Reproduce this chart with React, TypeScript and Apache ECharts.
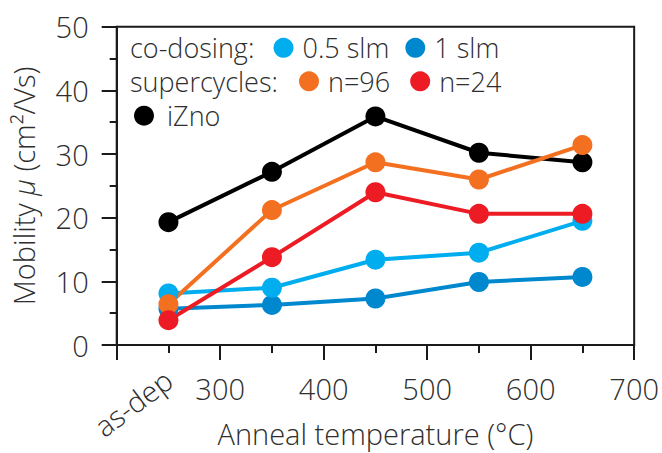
import React, { useEffect, useRef } from "react";
import * as echarts from "echarts";

const temperatures = [250, 350, 450, 550, 650];
const slm1 = [5.7, 6.3, 7.3, 9.9, 10.7];
const slm05 = [8.1, 9.0, 13.4, 14.5, 19.5];
const izno = [19.3, 27.2, 35.9, 30.2, 28.7];
const n96 = [6.4, 21.2, 28.7, 26.0, 31.4];
const n24 = [3.9, 13.8, 24.0, 20.6, 20.6];

const seriesNames = ["1 slm", "0.5 slm", "iZno", "n=96", "n=24"];
const seriesColors = ["#0088CF", "#00AEEF", "#000000", "#F37021", "#ED1C24"];
const seriesValues = [slm1, slm05, izno, n96, n24];

const xTickLabels = ["", "300", "400", "500", "600", "700"];
const yTickLabels = ["0", "10", "20", "30", "40", "50"];

const FONT = "'Open Sans', 'DejaVu Sans', sans-serif";
const TEXT = "#2e2e2e";
const AX = "#1a1a1a";
const FW = 300;
const LFS = 27;
const AFS = 29;

export default function App() {
  const ref = useRef<HTMLDivElement>(null);

  useEffect(() => {
    if (!ref.current) return;
    const chart = echarts.init(ref.current, undefined, { renderer: "svg" });

    const series = seriesNames.map((name, i) => ({
      name,
      type: "line",
      xAxisIndex: 0,
      yAxisIndex: 0,
      data: temperatures.map((t, j) => [t, seriesValues[i][j]]),
      symbol: "circle",
      symbolSize: 20,
      itemStyle: { color: seriesColors[i] },
      lineStyle: { color: seriesColors[i], width: 4 },
      emphasis: { disabled: true },
    }));

    const legendText = { fontSize: LFS, lineHeight: 28, color: TEXT, fontFamily: FONT, fontWeight: FW };

    chart.setOption({
      animation: false,
      backgroundColor: "#ffffff",
      textStyle: { fontFamily: FONT },
      grid: {
        left: 116.7,
        right: 25.5,
        top: 26.7,
        bottom: 106,
        show: true,
        borderColor: AX,
        borderWidth: 2,
        backgroundColor: "transparent",
      },
      legend: [
        {
          data: ["0.5 slm", "1 slm"],
          left: 273.5,
          top: 33.8,
          padding: 0,
          itemGap: 16,
          itemWidth: 20,
          itemHeight: 20,
          icon: "circle",
          selectedMode: false,
          textStyle: { ...legendText, padding: [0, 0, 0, 4] },
        },
        {
          data: ["n=96", "n=24"],
          left: 299,
          top: 67.3,
          padding: 0,
          itemGap: 20,
          itemWidth: 20,
          itemHeight: 20,
          icon: "circle",
          selectedMode: false,
          textStyle: { ...legendText, padding: [0, 0, 0, 4] },
        },
        {
          data: ["iZno"],
          left: 134,
          top: 101.7,
          padding: 0,
          itemWidth: 20,
          itemHeight: 20,
          icon: "circle",
          selectedMode: false,
          textStyle: { ...legendText, padding: [0, 0, 0, 8] },
        },
      ],
      graphic: [
        {
          type: "text",
          left: 130,
          top: 33.8,
          style: { text: "co-dosing:", fontSize: LFS, lineHeight: 28, fill: TEXT, fontFamily: FONT, fontWeight: FW },
        },
        {
          type: "text",
          left: 130,
          top: 67.3,
          style: { text: "supercycles:", fontSize: LFS, lineHeight: 28, fill: TEXT, fontFamily: FONT, fontWeight: FW },
        },
      ],
      xAxis: [
        {
          type: "value",
          min: 200,
          max: 700,
          interval: 100,
          position: "bottom",
          name: "Anneal temperature (°C)",
          nameLocation: "middle",
          nameGap: 74,
          nameTextStyle: { fontSize: AFS, color: TEXT, fontFamily: FONT, fontWeight: FW },
          axisLine: { show: true, lineStyle: { color: AX, width: 2 } },
          axisTick: { show: true, length: 15, lineStyle: { color: AX, width: 2 } },
          minorTick: { show: true, splitNumber: 2, length: 8, lineStyle: { color: AX, width: 2 } },
          splitLine: { show: false },
          axisLabel: {
            margin: 29,
            fontSize: AFS,
            color: TEXT,
            fontFamily: FONT,
            fontWeight: FW,
            formatter: (v: number) => xTickLabels[Math.round((v - 200) / 100)] ?? "",
          },
        },
        {
          type: "value",
          min: 200,
          max: 700,
          interval: 50,
          position: "bottom",
          axisLine: { show: false },
          axisTick: { show: false },
          splitLine: { show: false },
          axisLabel: {
            margin: 31,
            rotate: 37,
            fontSize: AFS,
            color: TEXT,
            fontFamily: FONT,
            fontWeight: FW,
            formatter: (v: number) => (v === 250 ? "as-dep" : ""),
          },
        },
      ],
      yAxis: {
        type: "value",
        min: 0,
        max: 50,
        interval: 10,
        name: "Mobility {i|μ} (cm²/Vs)",
        nameLocation: "middle",
        nameRotate: 90,
        nameGap: 79,
        nameTextStyle: {
          fontSize: AFS,
          color: TEXT,
          fontFamily: FONT,
          fontWeight: FW,
          rich: { i: { fontSize: AFS, fontStyle: "italic", color: TEXT, fontFamily: FONT, fontWeight: FW } },
        },
        axisLine: { show: true, lineStyle: { color: AX, width: 2 } },
        axisTick: { show: true, length: 15, lineStyle: { color: AX, width: 2 } },
        minorTick: { show: true, splitNumber: 2, length: 7, lineStyle: { color: AX, width: 2 } },
        splitLine: { show: false },
        axisLabel: {
          margin: 28,
          fontSize: AFS,
          color: TEXT,
          fontFamily: FONT,
          fontWeight: FW,
          formatter: (v: number) => yTickLabels[Math.round(v / 10)] ?? "",
        },
      },
      series,
    });

    return () => chart.dispose();
  }, []);

  return (
    <div
      ref={ref}
      style={{ position: "fixed", left: 0, top: 0, width: 662, height: 453, background: "#fff" }}
    />
  );
}
